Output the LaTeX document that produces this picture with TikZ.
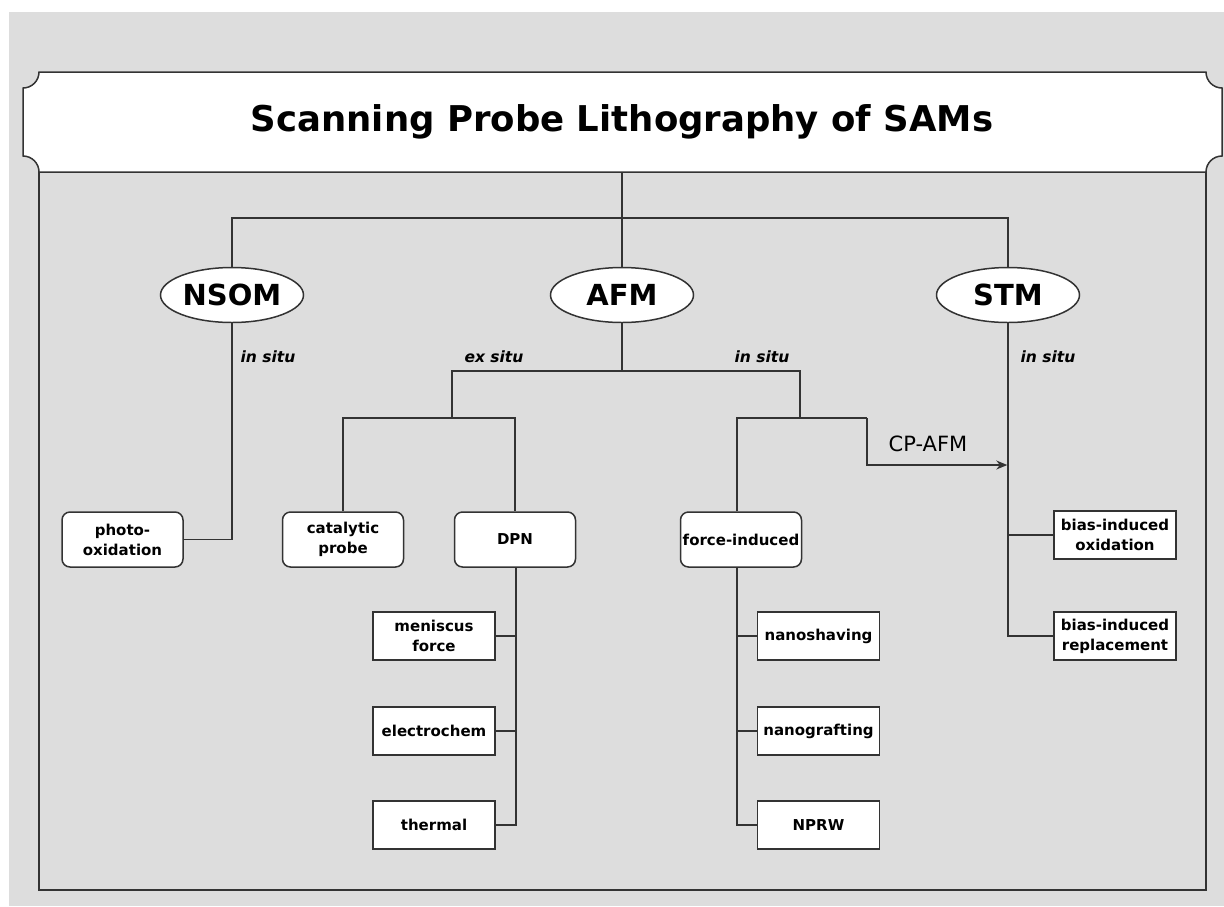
\documentclass[tikz,border=0pt]{standalone}
\usepackage{fontspec}
\setmainfont{DejaVu Sans}
\usetikzlibrary{arrows.meta,shapes.geometric}
\definecolor{bg}{HTML}{DDDDDD}
\definecolor{ln}{HTML}{333333}
\begin{document}
\begin{tikzpicture}[x=1pt,y=-1pt,
  line/.style={draw=ln,line width=1.5pt},
  rbox/.style={draw=ln,line width=1.5pt,fill=white,rounded corners=8pt,minimum width=121pt,minimum height=55pt,inner sep=0pt,align=center,font=\fontsize{15}{20}\selectfont\bfseries},
  sbox/.style={rbox,sharp corners,minimum width=122pt,minimum height=48pt},
  oval/.style={ellipse,draw=ln,line width=1.5pt,fill=white,minimum width=143pt,minimum height=55pt,inner sep=0pt,font=\fontsize{29}{32}\selectfont\bfseries},
  lab/.style={font=\fontsize{15.5}{17}\selectfont\bfseries\itshape},
  cplab/.style={font=\fontsize{21}{24}\selectfont}]
\useasboundingbox (0,0) rectangle (1224,906);
\fill[white] (0,0) rectangle (1224,906);
\fill[bg] (9,12) rectangle (1224,906);
% body frame
\draw[line,fill=bg] (39,172) rectangle (1206,890);
% banner
\draw[line,fill=white] (39,72) -- (1206,72)
  .. controls (1206,80.84) and (1213.16,88) .. (1222,88) -- (1222,156)
  .. controls (1213.16,156) and (1206,163.16) .. (1206,172) -- (39,172)
  .. controls (39,163.16) and (31.84,156) .. (23,156) -- (23,88)
  .. controls (31.84,88) and (39,80.84) .. (39,72) -- cycle;
\node (title) at (622,122) {\fontsize{35.5}{40}\selectfont\bfseries Scanning Probe Lithography of SAMs};
\coordinate (bannerb) at (622,172);
\coordinate (hl) at (232,218);
\coordinate (hr) at (1008,218);

% top level
\node[oval] (nsom) at (232,295) {NSOM};
\node[oval] (afm) at (622,295) {AFM};
\node[oval] (stm) at (1008,295) {STM};
\draw[line] (bannerb) -- (afm.north);
\draw[line] (nsom.north) -- (hl) -- (hr) -- (stm.north);

% NSOM branch
\node[rbox] (photo) at (122.5,539.5) {photo-\\oxidation};
\draw[line] (nsom.south) |- (photo.east);
\node[lab] (l1) at (268,357) {in situ};

% AFM branch
\coordinate (a1) at (452,371);
\coordinate (a2) at (800,371);
\coordinate (exj) at (452,418);
\coordinate (isj) at (800,418);
\draw[line] (afm.south) -- (afm.south |- a1);
\draw[line] (exj) -- (a1) -- (a2) -- (isj);
\node[lab] (l2) at (494,357) {ex situ};
\node[lab] (l3) at (762,357) {in situ};

% ex situ
\node[rbox] (cat) at (343,539.5) {catalytic\\probe};
\node[rbox] (dpn) at (515,539.5) {DPN};
\draw[line] (cat.north) |- (dpn.north |- exj) -- (dpn.north);
\node[sbox] (men) at (434,636) {meniscus\\force};
\node[sbox] (elec) at (434,731) {electrochem};
\node[sbox] (therm) at (434,825) {thermal};
\coordinate (dpnb) at (516,567);
\draw[line] (dpnb) |- (therm.east);
\draw[line] (men.east) -- (men.east -| dpnb);
\draw[line] (elec.east) -- (elec.east -| dpnb);

% in situ
\node[rbox] (force) at (741,539.5) {force-induced};
\coordinate (fj) at (737,418);
\coordinate (cpj) at (867,418);
\coordinate (cpe) at (1008,465);
\draw[line] (fj |- force.north) -- (fj) -- (cpj);
\draw[line,-{Stealth[length=11pt,width=9pt]},shorten >=0.7pt] (cpj) |- (cpe);
\node[cplab] (cp) at (928,444) {CP-AFM};
\node[sbox] (shav) at (818.5,636) {nanoshaving};
\node[sbox] (graft) at (818.5,731) {nanografting};
\node[sbox] (nprw) at (818.5,825) {NPRW};
\coordinate (fb) at (737,567);
\draw[line] (fb) |- (nprw.west);
\draw[line] (shav.west) -- (shav.west -| fb);
\draw[line] (graft.west) -- (graft.west -| fb);

% STM branch
\node[lab] (l4) at (1048,357) {in situ};
\node[sbox] (ox) at (1115,535) {bias-induced\\oxidation};
\node[sbox] (rep) at (1115,636) {bias-induced\\replacement};
\draw[line] (stm.south) |- (rep.west);
\draw[line] (ox.west) -- (ox.west -| stm.south);
\end{tikzpicture}
\end{document}
